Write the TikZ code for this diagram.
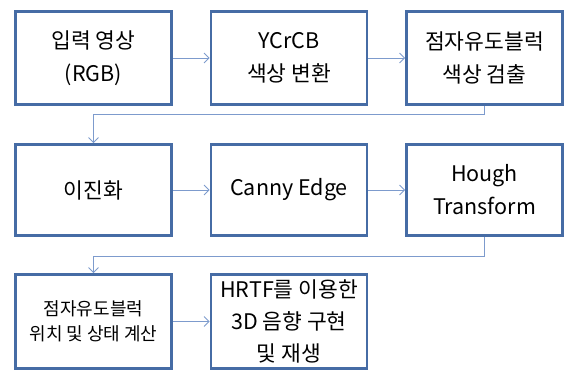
\documentclass[tikz,border=0pt]{standalone}
\usepackage{fontspec}
\setmainfont{Noto Sans CJK KR}
\usetikzlibrary{arrows.meta}
\definecolor{boxblue}{RGB}{70,108,165}
\definecolor{linkblue}{RGB}{125,155,205}
\begin{document}
\begin{tikzpicture}[x=1pt,y=-1pt,
  stepbox/.style={draw=boxblue,line width=2.6pt,fill=white,minimum width=156pt,align=center,
    font=\fontsize{21.5}{33}\selectfont,inner sep=0pt},
  link/.style={draw=linkblue,line width=0.9pt,-{Straight Barb[length=5pt,width=10pt]}}]
\useasboundingbox (0,0) rectangle (568,372);
\node[stepbox,minimum height=93pt] (a) at (93.5,58) {입력 영상\\(RGB)};
\node[stepbox,minimum height=93pt] (b) at (289,58) {YCrCB\\색상 변환};
\node[stepbox,minimum height=93pt] (c) at (484.5,58) {점자유도블럭\\색상 검출};
\node[stepbox,minimum height=91pt] (d) at (93.5,190) {이진화};
\node[stepbox,minimum height=91pt] (e) at (289,190) {Canny Edge};
\node[stepbox,minimum height=91pt] (f) at (484.5,190) {Hough\\Transform};
\node[stepbox,minimum height=94pt,font=\fontsize{18}{25}\selectfont] (g) at (93.5,321.5) {점자유도블럭\\위치 및 상태 계산};
\node[stepbox,minimum height=94pt,font=\fontsize{21.5}{32}\selectfont] (h) at (289,321.5) {HRTF를 이용한\\3D 음향 구현\\및 재생};
\draw[link] (a) -- (b);
\draw[link] (b) -- (c);
\draw[link] (d) -- (e);
\draw[link] (e) -- (f);
\draw[link] (g) -- (h);
\draw[link] (c.south) -- ++(0,9) -| (d.north);
\draw[link] (f.south) -- ++(0,20) -| (g.north);
\end{tikzpicture}
\end{document}
